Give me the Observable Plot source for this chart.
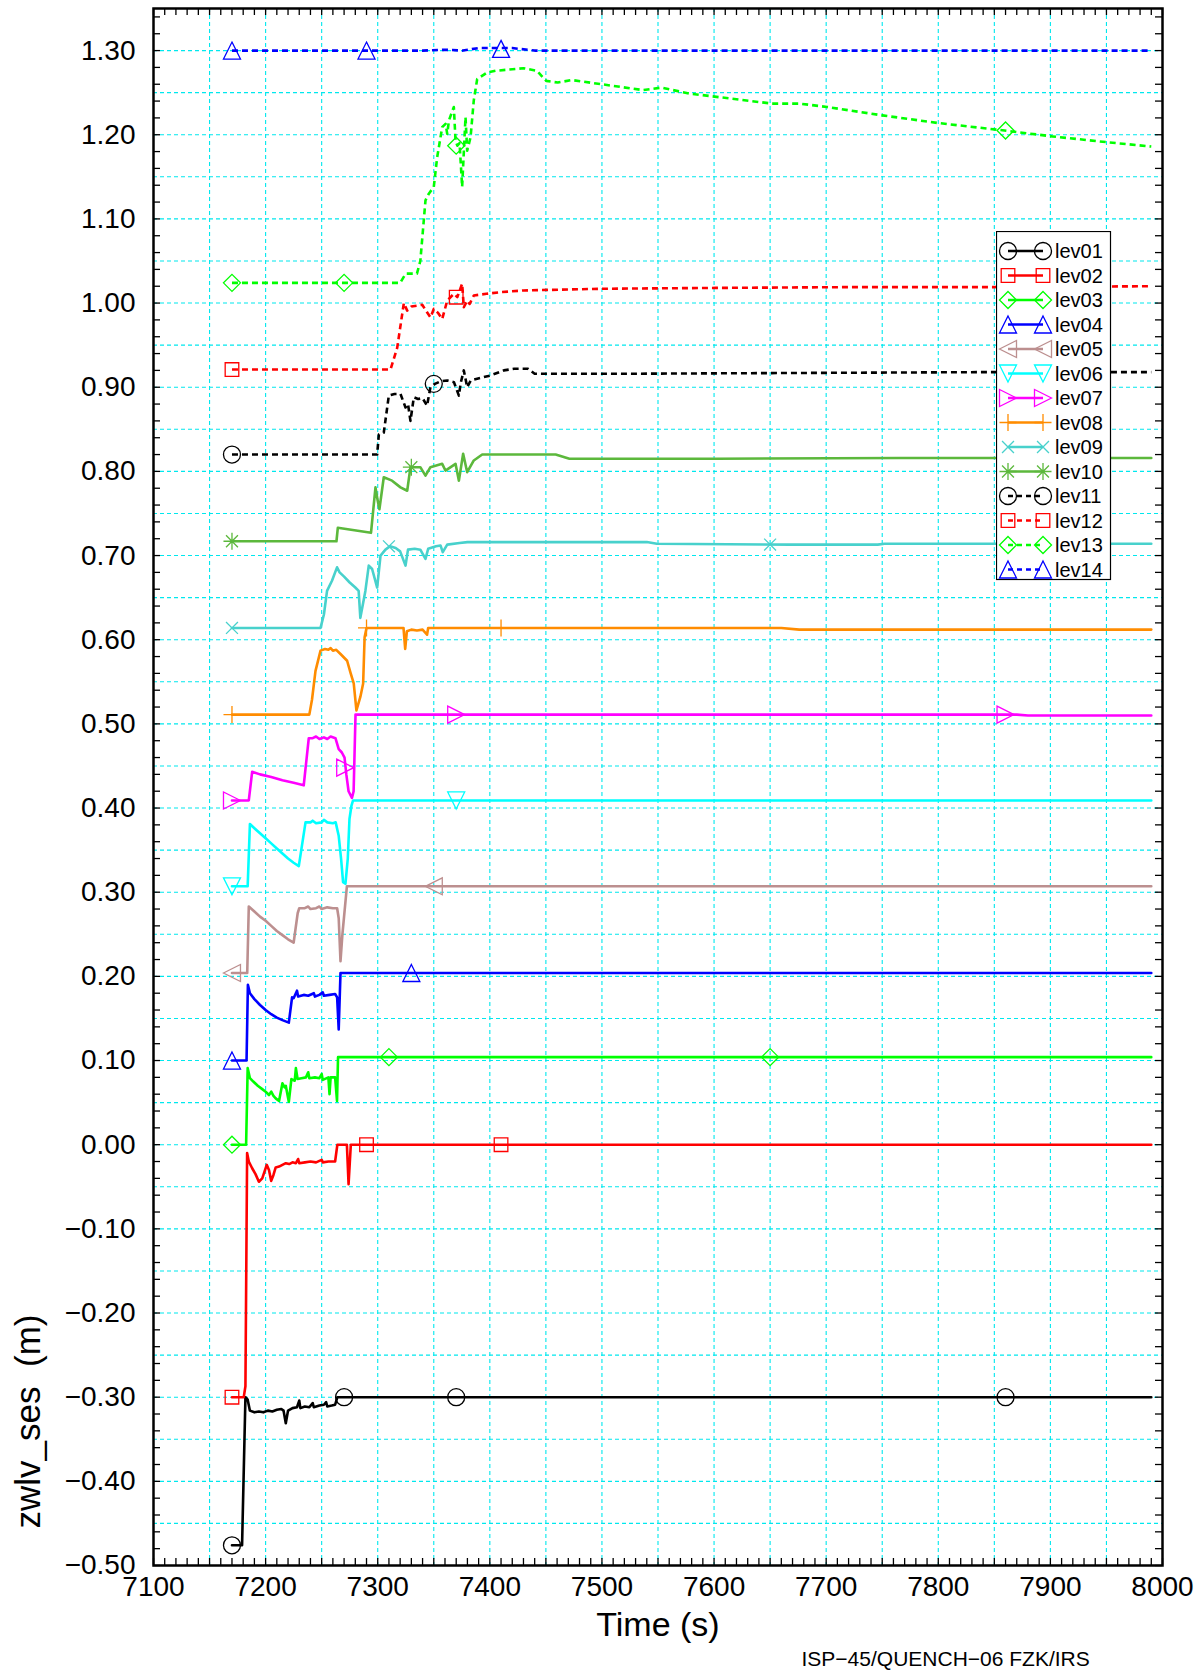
<!DOCTYPE html>
<html>
<head>
<meta charset="utf-8">
<script src="https://cdn.jsdelivr.net/npm/d3@7"></script>
<script src="https://cdn.jsdelivr.net/npm/@observablehq/plot@0.6"></script>
<style>
  body { margin: 0; background: #fff; }
  #wrap { position: relative; width: 1203px; height: 1674px; font-family: 'Liberation Sans', Arial, Helvetica, sans-serif; }
  #legend { position: absolute; left: 996px; top: 231px; }
</style>
</head>
<body>
<div id="wrap"></div>
<script>
// Water level in the test section per elevation level: [time (s), zwlv_ses (m)]
const lev01 = [[7170,-0.476],[7179,-0.476],[7182,-0.300],[7184,-0.303],[7186,-0.316],[7190,-0.318],[7194,-0.317],[7198,-0.318],[7202,-0.316],[7206,-0.317],[7210,-0.315],[7214,-0.314],[7216,-0.316],[7218,-0.331],[7220,-0.316],[7224,-0.313],[7228,-0.312],[7230,-0.304],[7231,-0.313],[7235,-0.311],[7239,-0.312],[7242,-0.307],[7243,-0.312],[7248,-0.310],[7252,-0.309],[7254,-0.306],[7255,-0.311],[7259,-0.310],[7262,-0.309],[7264,-0.300],[7990,-0.300]];
const lev02 = [[7170,-0.300],[7180.5,-0.300],[7182,-0.287],[7183.5,-0.010],[7185,-0.020],[7188,-0.028],[7191,-0.035],[7194,-0.044],[7197,-0.040],[7199,-0.032],[7201,-0.024],[7203,-0.030],[7205,-0.043],[7207,-0.036],[7209,-0.027],[7212,-0.026],[7215,-0.024],[7218,-0.022],[7221,-0.023],[7224,-0.021],[7227,-0.022],[7229,-0.017],[7230,-0.022],[7235,-0.021],[7240,-0.020],[7245,-0.021],[7250,-0.018],[7251,-0.021],[7256,-0.020],[7262,-0.020],[7264,0.000],[7272.5,0.000],[7274,-0.047],[7276,0.000],[7990,0.000]];
const lev03 = [[7170,0.000],[7182.6,0.000],[7184,0.091],[7186,0.079],[7189,0.075],[7193,0.070],[7197,0.066],[7200,0.063],[7203,0.059],[7205,0.063],[7207,0.058],[7209,0.055],[7212,0.052],[7215,0.073],[7217,0.068],[7218,0.070],[7220.7,0.051],[7223,0.078],[7226,0.076],[7227,0.091],[7228.5,0.078],[7232,0.079],[7236,0.080],[7238,0.086],[7239,0.079],[7244,0.080],[7248,0.079],[7250,0.084],[7251,0.077],[7256,0.080],[7257,0.060],[7258,0.080],[7262,0.080],[7263.7,0.052],[7264.6,0.104],[7990,0.104]];
const lev04 = [[7170,0.100],[7183,0.100],[7184.2,0.190],[7186,0.180],[7190,0.173],[7195,0.166],[7200,0.160],[7205,0.155],[7210,0.151],[7215,0.148],[7220.7,0.145],[7223.6,0.175],[7225,0.174],[7228,0.183],[7229,0.176],[7234,0.178],[7238,0.177],[7243,0.180],[7244,0.176],[7248,0.178],[7251,0.181],[7252,0.177],[7257,0.178],[7262,0.179],[7263.8,0.175],[7265.2,0.137],[7266.8,0.204],[7990,0.204]];
const lev05 = [[7170,0.204],[7183.6,0.204],[7185,0.283],[7190,0.277],[7195,0.271],[7200,0.266],[7205,0.260],[7210,0.254],[7215,0.249],[7220,0.244],[7225,0.240],[7228.6,0.275],[7230,0.281],[7235,0.281],[7238,0.283],[7240,0.280],[7245,0.281],[7248,0.283],[7250,0.280],[7255,0.282],[7260,0.281],[7263.8,0.281],[7265.2,0.269],[7266.8,0.218],[7268.5,0.250],[7272.5,0.307],[7990,0.307]];
const lev06 = [[7170,0.307],[7184,0.307],[7186,0.381],[7190,0.376],[7195,0.370],[7200,0.364],[7205,0.358],[7210,0.352],[7215,0.346],[7220,0.340],[7225,0.335],[7229.6,0.331],[7235.6,0.383],[7240,0.383],[7242,0.385],[7245,0.382],[7250,0.383],[7252,0.386],[7255,0.383],[7260,0.382],[7262.5,0.383],[7265.2,0.367],[7267.3,0.340],[7269.1,0.312],[7271.2,0.310],[7273.3,0.340],[7274.8,0.387],[7276.6,0.403],[7278,0.409],[7990,0.409]];
const lev07 = [[7170,0.409],[7185,0.409],[7188,0.443],[7195,0.440],[7205,0.437],[7215,0.433],[7225,0.430],[7234,0.427],[7238.5,0.483],[7242,0.483],[7245,0.485],[7248,0.482],[7252,0.484],[7255,0.482],[7258,0.485],[7262.3,0.483],[7265.2,0.470],[7268,0.466],[7270.4,0.460],[7272,0.440],[7274,0.420],[7277,0.412],[7278.5,0.420],[7280.2,0.511],[7870,0.511],[7880,0.510],[7990,0.510]];
const lev08 = [[7170,0.511],[7239,0.511],[7241.4,0.529],[7244.5,0.563],[7249,0.587],[7253,0.589],[7256,0.588],[7258,0.590],[7260,0.587],[7263,0.588],[7266.8,0.583],[7272.7,0.575],[7275.7,0.561],[7278.6,0.548],[7281,0.516],[7284.5,0.532],[7287,0.548],[7288.3,0.603],[7290,0.614],[7323,0.614],[7324.5,0.589],[7326,0.610],[7330,0.612],[7335,0.611],[7340,0.612],[7344,0.606],[7345,0.614],[7660,0.614],[7676,0.612],[7990,0.612]];
const lev09 = [[7170,0.614],[7249,0.614],[7252,0.630],[7254.8,0.658],[7259.2,0.670],[7263.7,0.686],[7266,0.680],[7270,0.675],[7275,0.668],[7280,0.662],[7283,0.658],[7284.5,0.626],[7289,0.658],[7292,0.688],[7295,0.684],[7299.5,0.662],[7302.5,0.700],[7306.9,0.707],[7311,0.711],[7316,0.709],[7320,0.705],[7324.8,0.688],[7327,0.707],[7333,0.708],[7338,0.707],[7342.6,0.696],[7345,0.708],[7352,0.711],[7356,0.712],[7358,0.704],[7362,0.713],[7373,0.715],[7380,0.716],[7540,0.716],[7549,0.714],[7668,0.713],[7746,0.713],[7752,0.714],[7990,0.714]];
const lev10 = [[7170,0.717],[7263.2,0.717],[7264.4,0.733],[7294,0.727],[7298,0.781],[7300,0.765],[7301.5,0.755],[7305.4,0.793],[7312.8,0.789],[7320.3,0.781],[7326.3,0.777],[7329.2,0.805],[7338,0.805],[7342.6,0.795],[7347,0.805],[7357.5,0.809],[7360.4,0.801],[7369.4,0.809],[7372.4,0.789],[7376.2,0.821],[7379.8,0.799],[7385.7,0.813],[7393.2,0.820],[7458.7,0.820],[7471,0.815],[7602,0.815],[7766,0.816],[7990,0.816]];
const lev11 = [[7170,0.820],[7299.5,0.820],[7301,0.844],[7305.4,0.846],[7309.9,0.890],[7315,0.892],[7320.3,0.892],[7324.8,0.876],[7327,0.880],[7329.2,0.860],[7332.2,0.888],[7336,0.886],[7340,0.887],[7344,0.878],[7347,0.900],[7351,0.904],[7356,0.907],[7362,0.908],[7368,0.906],[7372.4,0.890],[7374,0.905],[7376.8,0.920],[7379.8,0.900],[7383,0.908],[7388.7,0.910],[7400.6,0.914],[7412.5,0.920],[7421.7,0.922],[7434,0.922],[7440,0.916],[7520,0.916],[7684,0.917],[7849,0.918],[7990,0.918]];
const lev12 = [[7170,0.921],[7311.4,0.921],[7317.4,0.947],[7323.3,1.000],[7326.3,0.991],[7330,0.996],[7335.2,0.997],[7339.7,0.998],[7344,0.989],[7347.1,0.983],[7350,0.993],[7354,0.988],[7357.5,0.981],[7362,1.003],[7367.9,1.011],[7371,1.007],[7375.3,1.023],[7376.8,0.995],[7379.8,1.003],[7382,0.999],[7385.7,1.009],[7397,1.011],[7410,1.013],[7430,1.015],[7500,1.017],[7602,1.018],[7725,1.019],[7849,1.019],[7990,1.020]];
const lev13 = [[7170,1.024],[7320,1.024],[7325,1.035],[7335,1.035],[7338,1.050],[7342.6,1.122],[7345.6,1.130],[7350,1.138],[7353,1.173],[7357.5,1.209],[7360.5,1.213],[7362,1.201],[7363.5,1.217],[7367.9,1.233],[7369.4,1.193],[7371,1.187],[7373,1.190],[7375.3,1.138],[7378.3,1.221],[7379.8,1.181],[7382.8,1.197],[7385.7,1.241],[7388.7,1.266],[7397.6,1.274],[7405,1.276],[7430,1.279],[7442,1.276],[7450.3,1.264],[7460.6,1.262],[7473,1.265],[7499.7,1.260],[7536.7,1.253],[7553,1.256],[7577.7,1.249],[7651.7,1.237],[7676.3,1.237],[7700.9,1.233],[7750.2,1.223],[7799.5,1.214],[7859,1.205],[7902,1.198],[7951.5,1.191],[7990,1.186]];
const lev14 = [[7170,1.300],[7340,1.300],[7360,1.301],[7376,1.300],[7390,1.303],[7420,1.303],[7440,1.300],[7990,1.300]];

// Symbol positions along each curve: [time (s), zwlv_ses (m)]
const lev01Markers = [[7170,-0.476],[7270,-0.300],[7370,-0.300],[7860,-0.300]];
const lev02Markers = [[7170,-0.300],[7290,0.000],[7410,0.000]];
const lev03Markers = [[7170,0.000],[7310,0.104],[7650,0.104]];
const lev04Markers = [[7170,0.100],[7330,0.204]];
const lev05Markers = [[7170,0.204],[7350,0.307]];
const lev06Markers = [[7170,0.307],[7370,0.409]];
const lev07Markers = [[7170,0.409],[7271,0.448],[7370,0.511],[7860,0.511]];
const lev08Markers = [[7170,0.511],[7290,0.614],[7410,0.614]];
const lev09Markers = [[7170,0.614],[7310,0.711],[7650,0.713]];
const lev10Markers = [[7170,0.717],[7330,0.805]];
const lev11Markers = [[7170,0.820],[7350,0.904]];
const lev12Markers = [[7170,0.921],[7370,1.007]];
const lev13Markers = [[7170,1.024],[7270,1.024],[7370,1.187],[7860,1.205]];
const lev14Markers = [[7170,1.300],[7290,1.300],[7410,1.302]];

const seriesNames = ["lev01","lev02","lev03","lev04","lev05","lev06","lev07","lev08","lev09","lev10","lev11","lev12","lev13","lev14"];
const seriesValues = [lev01,lev02,lev03,lev04,lev05,lev06,lev07,lev08,lev09,lev10,lev11,lev12,lev13,lev14];
const seriesMarkers = [lev01Markers,lev02Markers,lev03Markers,lev04Markers,lev05Markers,lev06Markers,lev07Markers,lev08Markers,lev09Markers,lev10Markers,lev11Markers,lev12Markers,lev13Markers,lev14Markers];

// Axis ticks and labels
const xTickLabels = d3.range(7100, 8001, 100);
const yTickLabels = d3.range(-5, 14).map(i => i / 10);
const xGridLines = d3.range(7150, 8000, 50);
const yGridLines = d3.range(-9, 27).map(i => i * 0.05);
const xMinorTicks = d3.range(7100, 8001, 10);
const yMinorTicks = d3.range(-25, 68).map(i => i * 0.02);

// Drawing styles (colour, dash, symbol) per series
const seriesColors = ["#000000","#ff0000","#00ff00","#0000ff","#bc8f8f","#00ffff","#ff00ff","#ff8c00","#48d1cc","#5cb83c","#000000","#ff0000","#00ff00","#0000ff"];
const seriesDashed = [false,false,false,false,false,false,false,false,false,false,true,true,true,true];
const seriesSymbols = ["circle","square","diamond","triUp","triLeft","triDown","triRight","plus","cross","asterisk","circle","square","diamond","triUp"];

// Outline symbols; radius derived from the area Plot passes in
const rad = s => Math.sqrt(s / Math.PI);
const symbolShapes = {
  circle: { draw(c, s) { const r = rad(s); c.moveTo(r, 0); c.arc(0, 0, r, 0, 2 * Math.PI); } },
  square: { draw(c, s) { const h = rad(s) * 0.8; c.moveTo(-h, -h); c.lineTo(h, -h); c.lineTo(h, h); c.lineTo(-h, h); c.closePath(); } },
  diamond: { draw(c, s) { const r = rad(s); c.moveTo(0, -r); c.lineTo(r, 0); c.lineTo(0, r); c.lineTo(-r, 0); c.closePath(); } },
  triUp: { draw(c, s) { const r = rad(s); c.moveTo(0, -r); c.lineTo(r, r); c.lineTo(-r, r); c.closePath(); } },
  triDown: { draw(c, s) { const r = rad(s); c.moveTo(0, r); c.lineTo(r, -r); c.lineTo(-r, -r); c.closePath(); } },
  triLeft: { draw(c, s) { const r = rad(s); c.moveTo(-r, 0); c.lineTo(r, -r); c.lineTo(r, r); c.closePath(); } },
  triRight: { draw(c, s) { const r = rad(s); c.moveTo(r, 0); c.lineTo(-r, -r); c.lineTo(-r, r); c.closePath(); } },
  plus: { draw(c, s) { const r = rad(s); c.moveTo(-r, 0); c.lineTo(r, 0); c.moveTo(0, -r); c.lineTo(0, r); } },
  cross: { draw(c, s) { const r = rad(s) * 0.7; c.moveTo(-r, -r); c.lineTo(r, r); c.moveTo(-r, r); c.lineTo(r, -r); } },
  asterisk: { draw(c, s) { const r = rad(s); const d = r * 0.7; c.moveTo(-r, 0); c.lineTo(r, 0); c.moveTo(0, -r); c.lineTo(0, r); c.moveTo(-d, -d); c.lineTo(d, d); c.moveTo(-d, d); c.lineTo(d, -d); } }
};

const W = 1203, H = 1674, ML = 153, MR = 41, MT = 8, MB = 109;
const innerW = W - ML - MR, innerH = H - MT - MB;
const tickLen = 7;
const gridColor = "#00e8ee";
const markerR = 8.5;
const fontFamily = "'Liberation Sans', Arial, Helvetica, sans-serif";

const lineMarks = seriesValues.map((vals, i) =>
  Plot.line(vals, {
    x: d => d[0], y: d => d[1],
    stroke: seriesColors[i], strokeWidth: 2.6,
    strokeDasharray: seriesDashed[i] ? "6,4" : null,
    strokeLinejoin: "round", strokeLinecap: seriesDashed[i] ? "butt" : "round"
  })
);
const dotMarks = seriesMarkers.map((pts, i) =>
  Plot.dot(pts, {
    x: d => d[0], y: d => d[1],
    symbol: symbolShapes[seriesSymbols[i]], r: markerR,
    stroke: seriesColors[i], fill: "none", strokeWidth: 1.3
  })
);

const chart = Plot.plot({
  width: W, height: H,
  marginLeft: ML, marginRight: MR, marginTop: MT, marginBottom: MB,
  x: { domain: [7100, 8000] },
  y: { domain: [-0.5, 1.35] },
  style: { fontFamily, color: "black", background: "white" },
  marks: [
    Plot.ruleX(xGridLines, { x: d => d, stroke: gridColor, strokeWidth: 1.1, strokeDasharray: "4,3" }),
    Plot.ruleY(yGridLines, { y: d => d, stroke: gridColor, strokeWidth: 1.1, strokeDasharray: "4,3" }),
    ...lineMarks,
    ...dotMarks,
    // inward minor ticks on all four sides
    Plot.tickY(yMinorTicks, { y: d => d, insetRight: innerW - tickLen, stroke: "black", strokeWidth: 1.3 }),
    Plot.tickY(yMinorTicks, { y: d => d, insetLeft: innerW - tickLen, stroke: "black", strokeWidth: 1.3 }),
    Plot.tickX(xMinorTicks, { x: d => d, insetBottom: innerH - tickLen, stroke: "black", strokeWidth: 1.3 }),
    Plot.tickX(xMinorTicks, { x: d => d, insetTop: innerH - tickLen, stroke: "black", strokeWidth: 1.3 }),
    Plot.frame({ stroke: "black", strokeWidth: 2.5 }),
    Plot.axisX({ ticks: xTickLabels, tickFormat: d3.format("d"), tickSize: 0, tickPadding: 11, fontSize: 28, label: null }),
    Plot.axisY({ ticks: yTickLabels, tickFormat: d3.format(".2f"), tickSize: 0, tickPadding: 18, fontSize: 28, label: null }),
    Plot.text(["Time (s)"], { text: d => d, frameAnchor: "bottom", dy: 70, lineAnchor: "bottom", fontSize: 34 }),
    Plot.text(["zwlv_ses\u00a0\u00a0(m)"], { text: d => d, frameAnchor: "bottom-left", dx: -114, dy: -144, rotate: -90, textAnchor: "middle", lineAnchor: "bottom", fontSize: 35 }),
    Plot.text(["ISP\u221245/QUENCH\u221206 FZK/IRS"], { text: d => d, frameAnchor: "bottom-left", dx: 648, dy: 100, textAnchor: "start", lineAnchor: "bottom", fontSize: 21 })
  ]
});

const wrap = document.getElementById("wrap");
wrap.appendChild(chart);

// Legend box drawn over the upper right of the plot area
const rowH = 24.5, legW = 114, legH = 348;
const legend = d3.create("svg")
  .attr("id", "legend")
  .attr("width", legW + 2).attr("height", legH + 2);
legend.append("rect")
  .attr("x", 0.5).attr("y", 0.5).attr("width", legW).attr("height", legH)
  .attr("fill", "white").attr("stroke", "black").attr("stroke-width", 1.2);
seriesNames.forEach((name, i) => {
  const cy = 20 + rowH * i;
  const g = legend.append("g");
  g.append("line")
    .attr("x1", 12).attr("x2", 47).attr("y1", cy).attr("y2", cy)
    .attr("stroke", seriesColors[i]).attr("stroke-width", 2.6)
    .attr("stroke-dasharray", seriesDashed[i] ? "5,4" : null);
  [12, 47].forEach(x => {
    const p = d3.path();
    symbolShapes[seriesSymbols[i]].draw(p, markerR * markerR * Math.PI);
    g.append("path")
      .attr("transform", `translate(${x},${cy})`)
      .attr("d", p.toString())
      .attr("fill", "none").attr("stroke", seriesColors[i]).attr("stroke-width", 1.3);
  });
  g.append("text")
    .attr("x", 59).attr("y", cy).attr("dy", "0.35em")
    .attr("font-family", fontFamily).attr("font-size", 20)
    .text(name);
});
wrap.appendChild(legend.node());
</script>
</body>
</html>
